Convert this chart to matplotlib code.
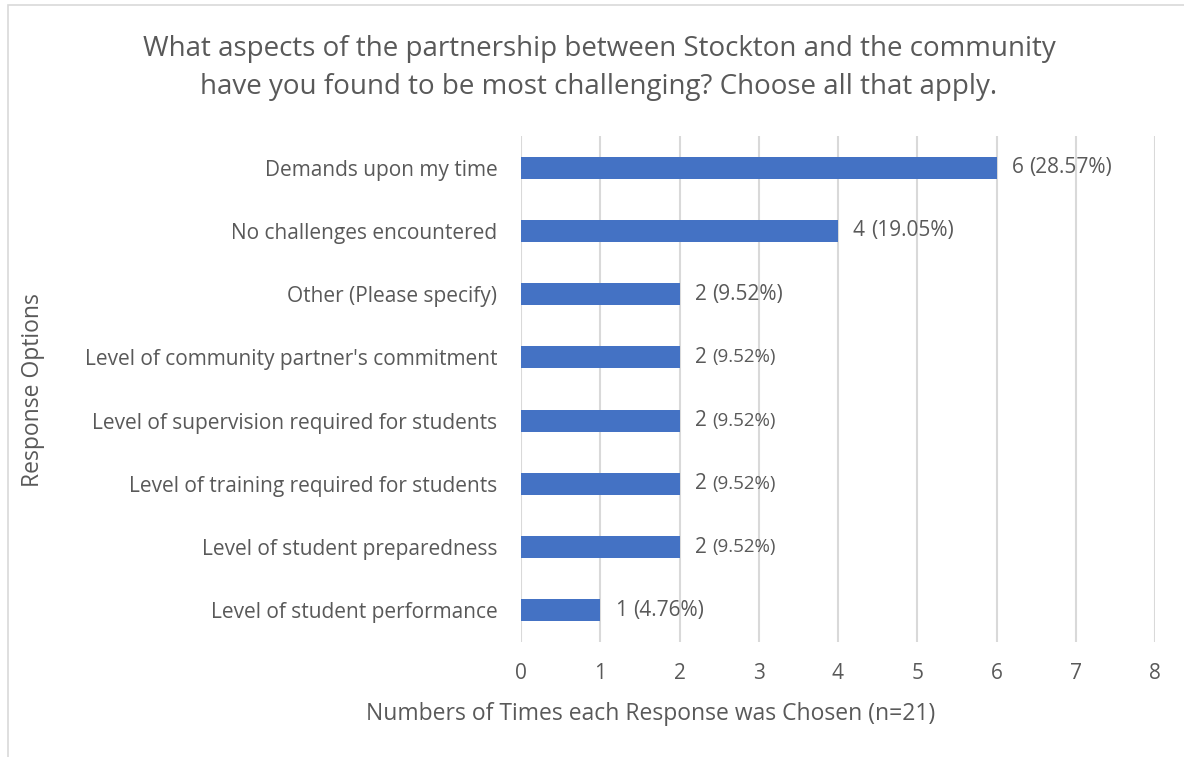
import matplotlib.pyplot as plt

plt.rcParams['font.family'] = ['Open Sans', 'DejaVu Sans']

categories = ["Demands upon my time",
              "No challenges encountered",
              "Other (Please specify)",
              "Level of community partner's commitment",
              "Level of supervision required for students",
              "Level of training required for students",
              "Level of student preparedness",
              "Level of student performance"]
counts = [6, 4, 2, 2, 2, 2, 2, 1]
percents = ["28.57%", "19.05%", "9.52%", "9.52%", "9.52%", "9.52%", "9.52%", "4.76%"]
small_pct = [False, False, False, True, True, True, True, False]
xticks = [0, 1, 2, 3, 4, 5, 6, 7, 8]

text_col = "#595959"
bar_col = "#4472C4"
grid_col = "#D9D9D9"

fig = plt.figure(figsize=(11.84, 7.57), dpi=100)
ax = fig.add_axes([521 / 1184, 1 - 642 / 757, (1155 - 521) / 1184, (642 - 136) / 757])

# chart border like the excel chart area
fig.patches.append(plt.Rectangle((8 / 1184, -0.01), 1.1, 1 - 5 / 757 + 0.01,
                                 transform=fig.transFigure, fill=False,
                                 edgecolor=grid_col, linewidth=1.2))

ypos = list(range(len(categories)))
ax.barh(ypos, counts, height=0.35, color=bar_col, zorder=3)
ax.set_ylim(len(categories) - 0.5, -0.5)
ax.set_xlim(0, 8)
ax.set_xticks(xticks)
ax.set_yticks(ypos)
ax.set_yticklabels(categories)
ax.tick_params(axis='y', length=0, pad=17, labelsize=15, labelcolor=text_col)
ax.tick_params(axis='x', length=0, pad=15, labelsize=15, labelcolor=text_col)
ax.grid(axis='x', color=grid_col, linewidth=1.5, zorder=0)
for s in ax.spines.values():
    s.set_visible(False)

for y, c, p, sm in zip(ypos, counts, percents, small_pct):
    a = ax.annotate(f"{c} ", xy=(c, y), xytext=(11, 0), textcoords="offset points",
                    va="center", ha="left", fontsize=15, color=text_col)
    ax.annotate(f"({p})", xy=(1, 0.5), xycoords=a, va="center", ha="left",
                fontsize=13.5 if sm else 15, color=text_col)

fig.text(651 / 1184, 1 - 714 / 757, "Numbers of Times each Response was Chosen (n=21)",
         ha="center", va="center", fontsize=16.5, color=text_col)
fig.text(33 / 1184, 1 - 390 / 757, "Response Options", rotation=90,
         ha="center", va="center", fontsize=16.5, color=text_col)

fig.text(599 / 1184, 1 - 68 / 757,
         "What aspects of the partnership between Stockton and the community\n"
         "have you found to be most challenging? Choose all that apply.",
         ha="center", va="center", fontsize=20, color=text_col, linespacing=1.5)

fig.savefig("out.png", dpi=100)
